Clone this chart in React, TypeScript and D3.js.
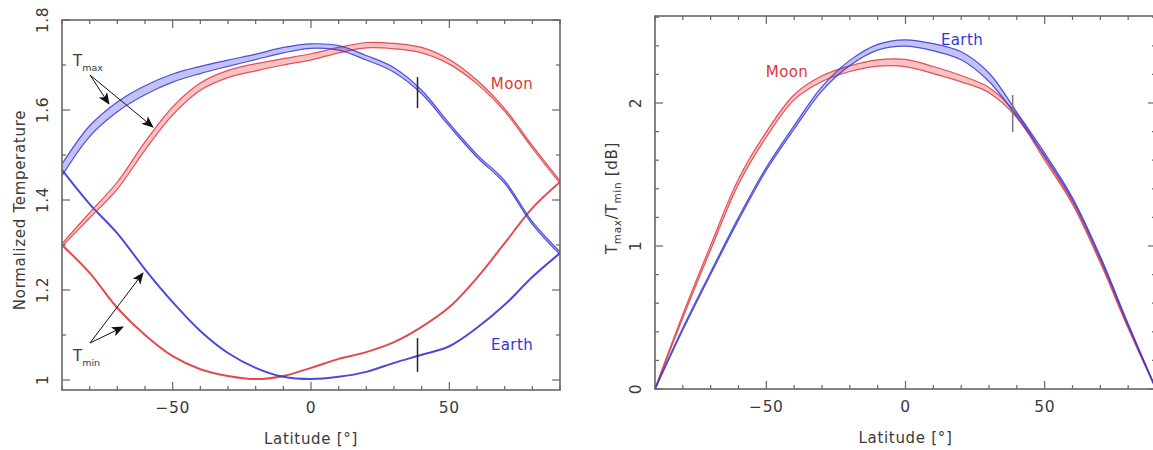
import React from 'react';
import * as d3 from 'd3';

const LAT = [-90, -80, -70, -60, -50, -40, -30, -20, -10, 0, 10, 20, 30, 40, 50, 60, 70, 80, 90];

const EARTH_TMAX = [1.467, 1.553, 1.607, 1.644, 1.671, 1.689, 1.704, 1.718, 1.733, 1.742, 1.738, 1.716, 1.689, 1.640, 1.567, 1.498, 1.440, 1.349, 1.282];
const EARTH_TMAX_HW = [0.013, 0.012, 0.011, 0.010, 0.009, 0.008, 0.007, 0.006, 0.006, 0.005, 0.005, 0.005, 0.005, 0.004, 0.003, 0.003, 0.003, 0.003, 0.003];
const EARTH_TMIN = [1.467, 1.391, 1.326, 1.246, 1.173, 1.109, 1.060, 1.027, 1.007, 1.002, 1.007, 1.018, 1.038, 1.056, 1.075, 1.116, 1.167, 1.229, 1.282];
const MOON_TMAX = [1.300, 1.366, 1.432, 1.520, 1.598, 1.652, 1.680, 1.695, 1.707, 1.718, 1.733, 1.744, 1.742, 1.733, 1.707, 1.662, 1.600, 1.518, 1.440];
const MOON_TMAX_HW = [0.003, 0.006, 0.008, 0.009, 0.009, 0.008, 0.008, 0.008, 0.007, 0.007, 0.006, 0.006, 0.006, 0.006, 0.005, 0.004, 0.003, 0.003, 0.003];
const MOON_TMIN = [1.300, 1.238, 1.160, 1.100, 1.053, 1.024, 1.009, 1.002, 1.009, 1.027, 1.047, 1.062, 1.084, 1.118, 1.162, 1.227, 1.304, 1.382, 1.440];

const EARTH_RATIO = [0, 0.42, 0.81, 1.19, 1.54, 1.83, 2.10, 2.28, 2.39, 2.42, 2.39, 2.33, 2.18, 1.92, 1.64, 1.33, 0.92, 0.45, 0];
const EARTH_RATIO_HW = [0.004, 0.008, 0.008, 0.010, 0.010, 0.012, 0.015, 0.018, 0.020, 0.022, 0.025, 0.028, 0.030, 0.015, 0.010, 0.008, 0.008, 0.006, 0.004];
const MOON_RATIO = [0, 0.51, 0.99, 1.45, 1.78, 2.04, 2.17, 2.24, 2.28, 2.28, 2.23, 2.17, 2.09, 1.91, 1.61, 1.30, 0.89, 0.43, 0];
const MOON_RATIO_HW = [0.005, 0.012, 0.016, 0.018, 0.018, 0.018, 0.020, 0.020, 0.022, 0.025, 0.025, 0.022, 0.018, 0.012, 0.010, 0.008, 0.008, 0.006, 0.004];

const X_MAJOR = [-50, 0, 50];
const LEFT_Y_MAJOR = [1, 1.2, 1.4, 1.6, 1.8];
const RIGHT_Y_MAJOR = [0, 1, 2];
const MARKER_LAT = 38.5;

const RED = '#e0363a';
const BLUE = '#3535d8';
const AXIS = '#666';
const TEXT = '#3a3a3a';
const FONT = '"DejaVu Sans", sans-serif';

type Scale = d3.ScaleLinear<number, number>;
const CURVE = d3.curveCatmullRom.alpha(0.5);

function Band({ x, y, vals, hw, color }: { x: Scale; y: Scale; vals: number[]; hw: number[]; color: string }) {
  const pts = LAT.map((lat, i) => ({ lat, v: vals[i], h: hw[i] }));
  const area = d3.area<any>().x((d) => x(d.lat)).y0((d) => y(d.v - d.h)).y1((d) => y(d.v + d.h)).curve(CURVE);
  const lo = d3.line<any>().x((d) => x(d.lat)).y((d) => y(d.v - d.h)).curve(CURVE);
  const hi = d3.line<any>().x((d) => x(d.lat)).y((d) => y(d.v + d.h)).curve(CURVE);
  return (
    <g>
      <path d={area(pts) || ''} fill={color} fillOpacity={0.3} stroke="none" />
      <path d={lo(pts) || ''} fill="none" stroke={color} strokeWidth={1.2} strokeOpacity={0.85} />
      <path d={hi(pts) || ''} fill="none" stroke={color} strokeWidth={1.2} strokeOpacity={0.85} />
    </g>
  );
}

function Line({ x, y, vals, color }: { x: Scale; y: Scale; vals: number[]; color: string }) {
  const pts = LAT.map((lat, i) => ({ lat, v: vals[i] }));
  const line = d3.line<any>().x((d) => x(d.lat)).y((d) => y(d.v)).curve(CURVE);
  return <path d={line(pts) || ''} fill="none" stroke={color} strokeWidth={2} strokeOpacity={0.9} />;
}

function Frame({ x, y, yMinorStep, yMajor }: { x: Scale; y: Scale; yMinorStep: number; yMajor: number[] }) {
  const [x0, x1] = x.range();
  const [y0, y1] = y.range();
  const xMinor = d3.range(-90, 90.001, 10);
  const yd = y.domain();
  const yMinor: number[] = [];
  for (let v = Math.ceil(yd[0] / yMinorStep - 1e-6) * yMinorStep; v <= yd[1] + 1e-6; v += yMinorStep) yMinor.push(+v.toFixed(4));
  const isMajorX = (v: number) => X_MAJOR.some((m) => Math.abs(m - v) < 1e-6);
  const isMajorY = (v: number) => yMajor.some((m) => Math.abs(m - v) < 1e-6);
  return (
    <g>
      <rect x={x0} y={y1} width={x1 - x0} height={y0 - y1} fill="none" stroke={AXIS} strokeWidth={1.6} />
      {xMinor.map((v) => {
        const L = isMajorX(v) ? 8 : 4;
        const px = x(v);
        return (
          <g key={'xt' + v}>
            <line x1={px} x2={px} y1={y0} y2={y0 - L} stroke={AXIS} strokeWidth={1.2} />
            <line x1={px} x2={px} y1={y1} y2={y1 + L} stroke={AXIS} strokeWidth={1.2} />
          </g>
        );
      })}
      {yMinor.map((v) => {
        const L = isMajorY(v) ? 8 : 4;
        const py = y(v);
        return (
          <g key={'yt' + v}>
            <line x1={x0} x2={x0 + L} y1={py} y2={py} stroke={AXIS} strokeWidth={1.2} />
            <line x1={x1} x2={x1 - L} y1={py} y2={py} stroke={AXIS} strokeWidth={1.2} />
          </g>
        );
      })}
      {X_MAJOR.map((v) => (
        <text key={'xl' + v} x={x(v)} y={y0 + 23} textAnchor="middle" fontSize={15.5} letterSpacing={0.6} fill={TEXT} fontFamily={FONT}>
          {v < 0 ? '\u2212' + Math.abs(v) : String(v)}
        </text>
      ))}
      {yMajor.map((v) => (
        <text
          key={'yl' + v}
          transform={`translate(${x0 - 14},${y(v)}) rotate(-90)`}
          textAnchor="middle"
          fontSize={15.5}
          letterSpacing={0.6}
          fill={TEXT}
          fontFamily={FONT}
        >
          {String(v)}
        </text>
      ))}
      <text x={(x0 + x1) / 2} y={y0 + 54} textAnchor="middle" fontSize={15} letterSpacing={0.7} fill={TEXT} fontFamily={FONT}>
        Latitude [°]
      </text>
    </g>
  );
}

export default function App() {
  const xL = d3.scaleLinear().domain([-90, 90]).range([62, 560]);
  const yL = d3.scaleLinear().domain([1 - 10 / 450, 1.8]).range([390, 20]);
  const xR = d3.scaleLinear().domain([-90, 90]).range([655, 1156]);
  const yR = d3.scaleLinear().domain([0, 373 / 143]).range([389, 16]);

  return (
    <svg width={1153} height={450} style={{ position: 'absolute', left: 0, top: 0, background: '#fff' }}>
      <defs>
        <clipPath id="clipL">
          <rect x={62} y={20} width={498} height={370} />
        </clipPath>
        <clipPath id="clipR">
          <rect x={655} y={16} width={501} height={373} />
        </clipPath>
        <marker id="arr" viewBox="0 0 12 10" refX={11} refY={5} markerWidth={12} markerHeight={10} markerUnits="userSpaceOnUse" orient="auto">
          <path d="M0,0 L12,5 L0,10 L3,5 z" fill="#111" />
        </marker>
      </defs>

      {/* Left panel */}
      <g clipPath="url(#clipL)">
        <Line x={xL} y={yL} vals={MOON_TMIN} color={RED} />
        <Line x={xL} y={yL} vals={EARTH_TMIN} color={BLUE} />
        <Band x={xL} y={yL} vals={MOON_TMAX} hw={MOON_TMAX_HW} color={RED} />
        <Band x={xL} y={yL} vals={EARTH_TMAX} hw={EARTH_TMAX_HW} color={BLUE} />
      </g>
      <Frame x={xL} y={yL} yMinorStep={0.1} yMajor={LEFT_Y_MAJOR} />
      <line x1={xL(MARKER_LAT)} x2={xL(MARKER_LAT)} y1={yL(1.673)} y2={yL(1.604)} stroke="#222" strokeWidth={1.5} />
      <line x1={xL(MARKER_LAT)} x2={xL(MARKER_LAT)} y1={yL(1.093)} y2={yL(1.018)} stroke="#222" strokeWidth={1.5} />
      <text x={512} y={89} textAnchor="middle" fontSize={15} letterSpacing={0.4} fill={RED} fontFamily={FONT}>Moon</text>
      <text x={512} y={350} textAnchor="middle" fontSize={15} letterSpacing={0.4} fill={BLUE} fontFamily={FONT}>Earth</text>

      {/* annotations */}
      <text x={73} y={66} fontSize={15} fill={TEXT} fontFamily={FONT}>
        T<tspan fontSize={9.5} dy={5}>max</tspan>
      </text>
      <line x1={90} y1={75} x2={109} y2={104} stroke="#111" strokeWidth={1} markerEnd="url(#arr)" />
      <line x1={90} y1={75} x2={153} y2={127} stroke="#111" strokeWidth={1} markerEnd="url(#arr)" />
      <text x={73} y={361} fontSize={15} fill={TEXT} fontFamily={FONT}>
        T<tspan fontSize={9.5} dy={5}>min</tspan>
      </text>
      <line x1={90} y1={343} x2={123} y2={327} stroke="#111" strokeWidth={1} markerEnd="url(#arr)" />
      <line x1={90} y1={343} x2={143} y2={273} stroke="#111" strokeWidth={1} markerEnd="url(#arr)" />

      <text transform="translate(25,210) rotate(-90)" textAnchor="middle" fontSize={15} letterSpacing={0.7} fill={TEXT} fontFamily={FONT}>
        Normalized Temperature
      </text>

      {/* Right panel */}
      <g clipPath="url(#clipR)">
        <Band x={xR} y={yR} vals={MOON_RATIO} hw={MOON_RATIO_HW} color={RED} />
        <Band x={xR} y={yR} vals={EARTH_RATIO} hw={EARTH_RATIO_HW} color={BLUE} />
      </g>
      <Frame x={xR} y={yR} yMinorStep={0.2} yMajor={RIGHT_Y_MAJOR} />
      <line x1={xR(MARKER_LAT)} x2={xR(MARKER_LAT)} y1={yR(2.056)} y2={yR(1.797)} stroke="#777" strokeWidth={1.5} />
      <text x={787} y={77} textAnchor="middle" fontSize={15} letterSpacing={0.4} fill={RED} fontFamily={FONT}>Moon</text>
      <text x={962} y={45} textAnchor="middle" fontSize={15} letterSpacing={0.4} fill={BLUE} fontFamily={FONT}>Earth</text>

      <text transform="translate(617,198) rotate(-90)" textAnchor="middle" fontSize={15} letterSpacing={0.7} fill={TEXT} fontFamily={FONT}>
        T<tspan fontSize={10.5} dy={4}>max</tspan>
        <tspan dy={-4}>/T</tspan>
        <tspan fontSize={10.5} dy={4}>min</tspan>
        <tspan dy={-4}> [dB]</tspan>
      </text>
    </svg>
  );
}
